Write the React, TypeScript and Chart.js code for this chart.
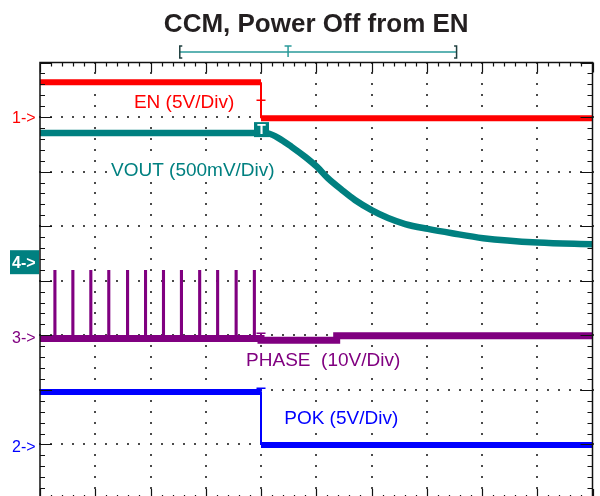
import React, { useEffect, useRef } from "react";
import { Chart, registerables } from "chart.js";

Chart.register(...registerables);

// ---- Scope screen (units = divisions) ----
const X_RANGE = [0, 10];
const Y_RANGE = [-4, 4];
const MINOR_PER_DIV = 5;
const TRIGGER_T = 4.0;

const TITLE = "CCM, Power Off from EN";

// EN (ch1): level before / after trigger
const EN_LEVELS = [3.64, 2.98];
// POK (ch2): level before / after trigger
const POK_LEVELS = [-2.04, -3.01];

// VOUT (ch4) discharge curve
const VOUT_T = [0, 4.0, 4.13, 4.31, 4.56, 4.8, 5.01, 5.21, 5.47, 5.7, 6.01, 6.3, 6.61, 7.02, 7.46, 8.02, 9.01, 10];
const VOUT_V = [2.71, 2.71, 2.7, 2.62, 2.45, 2.27, 2.09, 1.88, 1.66, 1.48, 1.29, 1.15, 1.04, 0.95, 0.87, 0.78, 0.7, 0.67];

// PHASE (ch3) baseline and switching spikes
const PHASE_BASE_T = [0, 4.0, 4.0, 5.37, 5.37, 10];
const PHASE_BASE_V = [-1.06, -1.06, -1.09, -1.09, -1.01, -1.01];
const PHASE_SPIKE_T = [0.26, 0.585, 0.91, 1.235, 1.575, 1.9, 2.225, 2.55, 2.88, 3.205, 3.54, 3.87];
const PHASE_SPIKE_TOP = 0.18;

// Channel markers at left
const MARKER_TEXT = ["1->", "4->", "3->", "2->"];
const MARKER_LEVEL = [2.99, 0.34, -1.04, -3.04];

// Trace labels (start x, baseline y in divisions)
const LABEL_TEXT = ["EN (5V/Div)", "VOUT (500mV/Div)", "PHASE  (10V/Div)", "POK (5V/Div)"];
const LABEL_X = [1.7, 1.285, 3.73, 4.42];
const LABEL_Y = [3.16, 1.92, -1.56, -2.63];

// Record bracket on top: [ start, trigger mark, end ]
const BRACKET_T = [2.53, 4.49, 7.54];

const C_EN = "#ff0000";
const C_VOUT = "#008080";
const C_PHASE = "#800080";
const C_POK = "#0000ff";
const FONT = "'Liberation Sans', Arial, Helvetica, sans-serif";

function line(data: { x: number; y: number | null }[], color: string, width: number, extra: any = {}) {
  return {
    data,
    borderColor: color,
    backgroundColor: color,
    borderWidth: width,
    pointRadius: 0,
    tension: 0,
    borderCapStyle: "butt",
    borderJoinStyle: "miter",
    fill: false,
    ...extra,
  };
}

function stepSets(levels: number[], color: string) {
  return [
    line([{ x: X_RANGE[0], y: levels[0] }, { x: TRIGGER_T, y: levels[0] }], color, 6),
    line([{ x: TRIGGER_T, y: levels[0] }, { x: TRIGGER_T, y: levels[1] }], color, 2),
    line([{ x: TRIGGER_T, y: levels[1] }, { x: X_RANGE[1], y: levels[1] }], color, 6),
  ];
}

const scopePlugin = {
  id: "scopeScreen",
  beforeDatasetsDraw(chart: any) {
    const { ctx, scales } = chart;
    const xs = scales.x;
    const ys = scales.y;
    ctx.save();
    ctx.fillStyle = "#4a4a4a";
    // dotted vertical major lines
    for (let i = X_RANGE[0] + 1; i < X_RANGE[1]; i++) {
      const px = Math.round(xs.getPixelForValue(i));
      for (let j = Y_RANGE[0] * MINOR_PER_DIV; j <= Y_RANGE[1] * MINOR_PER_DIV; j++) {
        const py = Math.round(ys.getPixelForValue(j / MINOR_PER_DIV));
        ctx.fillRect(px - 1, py - 1, 2, 2);
      }
    }
    // dotted horizontal major lines
    for (let k = Y_RANGE[0] + 1; k < Y_RANGE[1]; k++) {
      const py = Math.round(ys.getPixelForValue(k));
      for (let j = X_RANGE[0] * MINOR_PER_DIV; j <= X_RANGE[1] * MINOR_PER_DIV; j++) {
        const px = Math.round(xs.getPixelForValue(j / MINOR_PER_DIV));
        ctx.fillRect(px - 1, py - 1, 2, 2);
      }
    }

    // trace labels on white boxes (cover the grid dots)
    const colors = [C_EN, C_VOUT, C_PHASE, C_POK];
    ctx.font = `19px ${FONT}`;
    ctx.textAlign = "left";
    ctx.textBaseline = "alphabetic";
    LABEL_TEXT.forEach((t, i) => {
      const lx = xs.getPixelForValue(LABEL_X[i]);
      const ly = ys.getPixelForValue(LABEL_Y[i]);
      const w = ctx.measureText(t).width;
      ctx.fillStyle = "#ffffff";
      ctx.fillRect(lx - 3, ly - 17, w + 6, 23);
      ctx.fillStyle = colors[i];
      ctx.fillText(t, lx, ly);
    });
    ctx.restore();
  },
  afterDatasetsDraw(chart: any) {
    const { ctx, chartArea: a, scales } = chart;
    const xs = scales.x;
    const ys = scales.y;
    ctx.save();
    // frame + ticks
    ctx.strokeStyle = "#111";
    ctx.lineWidth = 1.5;
    ctx.strokeRect(a.left, a.top, a.right - a.left, a.bottom - a.top);
    ctx.lineWidth = 1.2;
    ctx.beginPath();
    for (let j = X_RANGE[0] * MINOR_PER_DIV; j <= X_RANGE[1] * MINOR_PER_DIV; j++) {
      const px = Math.round(xs.getPixelForValue(j / MINOR_PER_DIV)) + 0.5;
      const major = j % MINOR_PER_DIV === 0;
      const len = major ? 10 : 4;
      ctx.moveTo(px, a.top);
      ctx.lineTo(px, a.top + len);
      ctx.moveTo(px, a.bottom);
      ctx.lineTo(px, a.bottom - len);
    }
    for (let j = Y_RANGE[0] * MINOR_PER_DIV; j <= Y_RANGE[1] * MINOR_PER_DIV; j++) {
      const py = Math.round(ys.getPixelForValue(j / MINOR_PER_DIV)) + 0.5;
      const major = j % MINOR_PER_DIV === 0;
      const len = major ? 12 : 5;
      ctx.moveTo(a.left, py);
      ctx.lineTo(a.left + len, py);
      ctx.moveTo(a.right, py);
      ctx.lineTo(a.right - len, py);
    }
    ctx.stroke();

    const tx = xs.getPixelForValue(TRIGGER_T);
    // small trigger T marks
    const tMark = (color: string, yVal: number, h: number) => {
      const py = ys.getPixelForValue(yVal);
      ctx.strokeStyle = color;
      ctx.lineWidth = 1.5;
      ctx.beginPath();
      ctx.moveTo(tx - 4.5, py);
      ctx.lineTo(tx + 4.5, py);
      ctx.moveTo(tx, py);
      ctx.lineTo(tx, py + h);
      ctx.stroke();
    };
    tMark(C_EN, EN_LEVELS[0] - 0.33, 12);
    tMark(C_PHASE, PHASE_BASE_V[0] + 0.1, 6);
    tMark(C_POK, POK_LEVELS[0] + 0.07, 6);

    // VOUT trigger box
    const by = ys.getPixelForValue(VOUT_V[1] + 0.06);
    ctx.fillStyle = C_VOUT;
    ctx.fillRect(tx - 7, by - 7.5, 15, 15);
    ctx.fillStyle = "#ffffff";
    ctx.font = `bold 14px ${FONT}`;
    ctx.textAlign = "center";
    ctx.textBaseline = "middle";
    ctx.fillText("T", tx + 0.5, by + 1);
    ctx.restore();
  },
  afterDraw(chart: any) {
    const { ctx, chartArea: a, scales } = chart;
    const xs = scales.x;
    const ys = scales.y;
    ctx.save();
    // title
    ctx.fillStyle = "#231f20";
    ctx.font = `bold 26px ${FONT}`;
    ctx.textAlign = "center";
    ctx.textBaseline = "alphabetic";
    ctx.fillText(TITLE, (a.left + a.right) / 2, 32);

    // record bracket
    const yb = a.top - 10.5;
    const b0 = xs.getPixelForValue(BRACKET_T[0]);
    const b1 = xs.getPixelForValue(BRACKET_T[1]);
    const b2 = xs.getPixelForValue(BRACKET_T[2]);
    ctx.strokeStyle = "#2a9a9a";
    ctx.lineWidth = 1.5;
    ctx.beginPath();
    ctx.moveTo(b0, yb);
    ctx.lineTo(b2, yb);
    ctx.moveTo(b1 - 3.5, yb - 6);
    ctx.lineTo(b1 + 3.5, yb - 6);
    ctx.moveTo(b1, yb - 6);
    ctx.lineTo(b1, yb + 5);
    ctx.stroke();
    ctx.strokeStyle = "#1f3f3f";
    ctx.beginPath();
    ctx.moveTo(b0 + 2.5, yb - 6);
    ctx.lineTo(b0, yb - 6);
    ctx.lineTo(b0, yb + 6);
    ctx.lineTo(b0 + 2.5, yb + 6);
    ctx.moveTo(b2 - 2.5, yb - 6);
    ctx.lineTo(b2, yb - 6);
    ctx.lineTo(b2, yb + 6);
    ctx.lineTo(b2 - 2.5, yb + 6);
    ctx.stroke();

    // channel markers
    const mcolors = [C_EN, C_VOUT, C_PHASE, C_POK];
    ctx.textBaseline = "middle";
    ctx.textAlign = "left";
    MARKER_TEXT.forEach((t, i) => {
      const py = ys.getPixelForValue(MARKER_LEVEL[i]);
      if (i === 1) {
        ctx.fillStyle = mcolors[i];
        ctx.fillRect(10, py - 12, 29, 24);
        ctx.fillStyle = "#ffffff";
        ctx.font = `bold 16px ${FONT}`;
        ctx.fillText(t, 12, py + 1);
      } else {
        ctx.fillStyle = mcolors[i];
        ctx.font = `16px ${FONT}`;
        ctx.fillText(t, 12, py + 1);
      }
    });
    ctx.restore();
  },
};

export default function App() {
  const ref = useRef<HTMLCanvasElement | null>(null);

  useEffect(() => {
    document.body.style.margin = "0";
    const voutData = VOUT_T.map((t, i) => ({ x: t, y: VOUT_V[i] }));
    const phaseBase = PHASE_BASE_T.map((t, i) => ({ x: t, y: PHASE_BASE_V[i] }));
    const spikes: { x: number; y: number | null }[] = [];
    PHASE_SPIKE_T.forEach((t) => {
      spikes.push({ x: t, y: PHASE_BASE_V[0] });
      spikes.push({ x: t, y: PHASE_SPIKE_TOP });
      spikes.push({ x: t + 0.02, y: PHASE_SPIKE_TOP });
      spikes.push({ x: t + 0.02, y: PHASE_BASE_V[0] });
      spikes.push({ x: t + 0.03, y: null });
    });

    const chart = new Chart(ref.current as HTMLCanvasElement, {
      type: "line",
      data: {
        datasets: [
          ...stepSets(EN_LEVELS, C_EN),
          line(voutData, C_VOUT, 6.5, { cubicInterpolationMode: "monotone" }),
          line(phaseBase, C_PHASE, 7),
          line(spikes, C_PHASE, 2),
          ...stepSets(POK_LEVELS, C_POK),
        ] as any,
      },
      options: {
        animation: false,
        responsive: false,
        maintainAspectRatio: false,
        parsing: true,
        layout: { padding: { left: 40, right: 7.5, top: 62.5, bottom: 11 } },
        plugins: { legend: { display: false }, tooltip: { enabled: false }, title: { display: false } },
        events: [],
        scales: {
          x: { type: "linear", min: X_RANGE[0], max: X_RANGE[1], display: false },
          y: { type: "linear", min: Y_RANGE[0], max: Y_RANGE[1], display: false },
        },
      },
      plugins: [scopePlugin as any],
    });
    return () => chart.destroy();
  }, []);

  return (
    <div
      style={{
        position: "fixed",
        left: 0,
        top: 0,
        width: 600,
        height: 496,
        overflow: "hidden",
        background: "#ffffff",
      }}
    >
      <canvas ref={ref} width={600} height={510} style={{ display: "block" }} />
    </div>
  );
}
